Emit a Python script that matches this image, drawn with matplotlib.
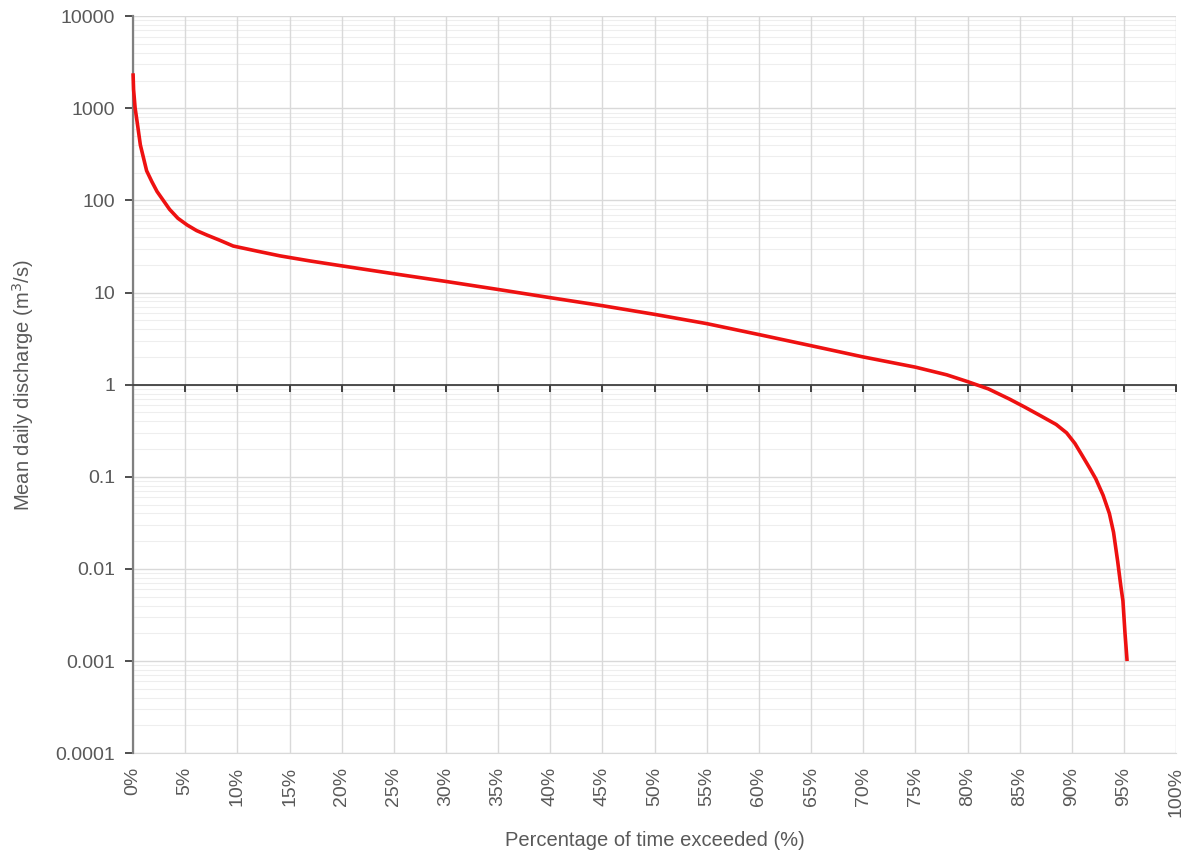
import matplotlib
matplotlib.use("Agg")
import matplotlib.pyplot as plt
import numpy as np
from matplotlib.ticker import FixedLocator, FuncFormatter, LogLocator, NullFormatter

# flow duration curve
percent = [0.0, 0.05, 0.2, 0.4, 0.7, 1.0, 1.3, 1.8, 2.3, 2.9, 3.5, 4.3, 5.2, 6.1, 7.1,
           8.3, 9.6, 12.0, 14.1, 17.0, 20.0, 25.0, 30.0, 35.0, 40.0, 45.0, 50.0,
           55.0, 60.0, 65.0, 70.0, 75.0, 78.0, 80.0, 82.0, 84.0, 85.5, 87.0, 88.5,
           89.5, 90.3, 91.0, 91.7, 92.3, 93.0, 93.6, 94.0, 94.4, 94.7, 94.9, 95.1, 95.3]
discharge = [2400, 1600, 1000, 700, 400, 290, 210, 160, 125, 100, 80, 64, 54, 47, 42,
             37, 32, 28, 25, 22, 19.5, 16, 13.2, 10.8, 8.8, 7.2, 5.8,
             4.6, 3.5, 2.65, 2.0, 1.55, 1.28, 1.08, 0.9, 0.7, 0.57, 0.46, 0.37,
             0.3, 0.23, 0.17, 0.125, 0.095, 0.063, 0.04, 0.025, 0.012, 0.0065,
             0.0045, 0.002, 0.001]

x_ticks = list(range(0, 101, 5))
y_ticks = [0.0001, 0.001, 0.01, 0.1, 1, 10, 100, 1000, 10000]
y_labels = ["0.0001", "0.001", "0.01", "0.1", "1", "10", "100", "1000", "10000"]

TEXT = "#595959"
GRID = "#d9d9d9"
FS = 14
plt.rcParams["font.family"] = ["Liberation Sans", "DejaVu Sans"]

fig = plt.figure(figsize=(11.88, 8.52), dpi=100)
ax = fig.add_axes([0.112, 0.116, 0.878, 0.865])

ax.set_yscale("log")
ax.set_xlim(0, 100)
ax.set_ylim(1e-4, 1e4)

# gridlines
ax.yaxis.set_major_locator(FixedLocator(y_ticks))
ax.yaxis.set_minor_locator(LogLocator(base=10, subs=np.arange(2, 10), numticks=20))
ax.yaxis.set_minor_formatter(NullFormatter())
ax.set_yticklabels(y_labels)
ax.xaxis.set_major_locator(FixedLocator(x_ticks))
ax.grid(which="major", color=GRID, linewidth=1.0)
ax.grid(which="minor", axis="y", color="#eeeeee", linewidth=0.8)
ax.set_axisbelow(True)
ax.xaxis.set_zorder(1.0)

# x axis crosses at y = 1
ax.spines["bottom"].set_position(("data", 1))
ax.spines["bottom"].set_color("#404040")
ax.spines["bottom"].set_linewidth(1.3)
ax.spines["top"].set_visible(False)
ax.spines["right"].set_visible(False)
ax.spines["left"].set_color("#808080")
ax.spines["left"].set_linewidth(1.6)
ax.tick_params(axis="x", which="major", direction="out", length=5, width=1.4,
               color="#404040", labelbottom=False)
ax.tick_params(axis="y", which="major", direction="out", length=6, width=1.3,
               color="#404040", labelsize=FS, labelcolor=TEXT, pad=7)
ax.tick_params(axis="y", which="minor", length=0)

# bottom labels via a secondary axis
sec = ax.secondary_xaxis(0)
sec.xaxis.set_major_locator(FixedLocator(x_ticks))
sec.xaxis.set_major_formatter(FuncFormatter(lambda v, p: f"{int(v)}%"))
sec.tick_params(length=0, labelsize=FS, labelcolor=TEXT, labelrotation=90, pad=10)
sec.spines["bottom"].set_color(GRID)

ax.plot(percent, discharge, color="#ee1111", linewidth=2.6, solid_capstyle="butt",
        zorder=5, clip_on=False)

sec.set_xlabel("Percentage of time exceeded (%)", fontsize=FS + 0.5, color=TEXT,
               labelpad=10)
ax.set_ylabel("Mean daily discharge (m$^3$/s)", fontsize=FS + 0.5, color=TEXT,
              labelpad=14)

fig.savefig("out.png", dpi=100)
